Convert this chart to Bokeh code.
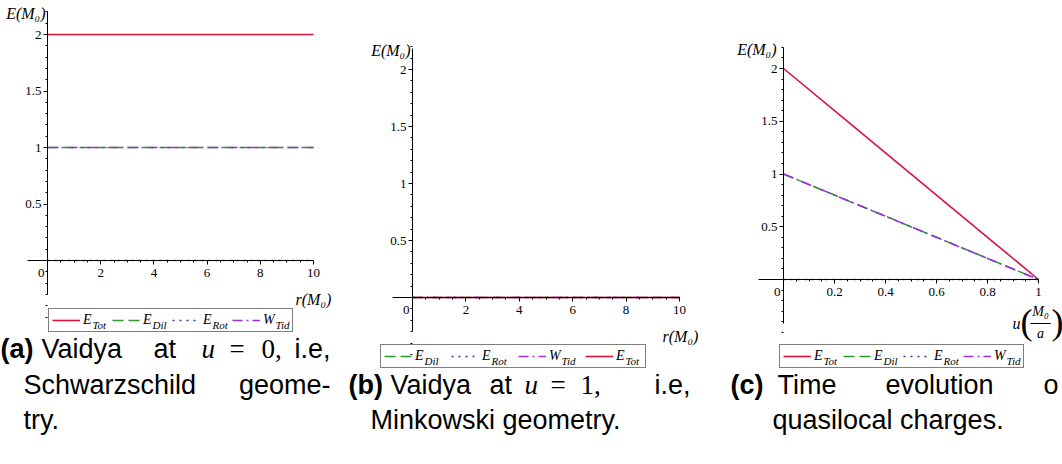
import numpy as np
from bokeh.plotting import figure
from bokeh.layouts import row
from bokeh.models import (Range1d, LinearAxis, FixedTicker, PrintfTickFormatter,
                          Label, Legend, LegendItem)
from bokeh.embed import file_html
from bokeh.resources import INLINE

# ---------------- data ----------------
# (a) Vaidya at u = 0 (Schwarzschild)
a_r = [0, 10]
a_E_Tot = [2, 2]
a_E_Dil = [1, 1]
a_E_Rot = [0, 0]
a_W_Tid = [1, 1]

# (b) Vaidya at u = 1 (Minkowski)
b_r = [0, 10]
b_E_Dil = [0, 0]
b_E_Rot = [0, 0]
b_W_Tid = [0, 0]
b_E_Tot = [0, 0]

# (c) time evolution
c_u = [0, 0.2, 0.4, 0.6, 0.8, 1]
c_E_Tot = [2, 1.6, 1.2, 0.8, 0.4, 0]
c_E_Dil = [1, 0.8, 0.6, 0.4, 0.2, 0]
c_E_Rot = [0, 0, 0, 0, 0, 0]
c_W_Tid = [1, 0.8, 0.6, 0.4, 0.2, 0]

r_ticks = [2, 4, 6, 8, 10]
u_ticks = [0.2, 0.4, 0.6, 0.8, 1]
E_ticks = [0.5, 1, 1.5, 2]

# ---------------- styles ----------------
H = 456
SERIF = "Liberation Serif"
SANS = "Liberation Sans"
STY = {
    "E_Tot": dict(color="#dc143c", dash="solid", main="E", sub="Tot"),
    "E_Dil": dict(color="#2e9a2e", dash="11 5", main="E", sub="Dil"),
    "E_Rot": dict(color="#3a3a96", dash="2 5", main="E", sub="Rot"),
    "W_Tid": dict(color="#9b30e0", dash="10 4 2 4", main="W", sub="Tid"),
}


def make_panel(fig_left, fig_w, xpx, xval, ypx, yval, xb, yb, xt, xminor):
    kx = (xpx[1] - xpx[0]) / (xval[1] - xval[0])
    x0 = xval[0] - (xpx[0] - fig_left) / kx
    ky = (ypx[0] - ypx[1]) / (yval[1] - yval[0])
    y1 = yval[1] + ypx[1] / ky
    p = figure(width=fig_w, height=H, title=None,
               x_range=Range1d(x0, x0 + fig_w / kx),
               y_range=Range1d(y1 - H / ky, y1),
               x_axis_type=None, y_axis_type=None,
               output_backend="svg", toolbar_location=None, min_border=0)
    p.outline_line_color = None
    p.background_fill_color = "white"
    ymin = [round(v, 2) for v in np.arange(-0.5, 2.3, 0.1)]
    xa = LinearAxis(fixed_location=0, bounds=xb,
                    ticker=FixedTicker(ticks=xt, minor_ticks=xminor),
                    formatter=PrintfTickFormatter(format="%g"))
    ya = LinearAxis(fixed_location=0, bounds=yb,
                    ticker=FixedTicker(ticks=E_ticks, minor_ticks=ymin),
                    formatter=PrintfTickFormatter(format="%g"))
    for ax in (xa, ya):
        ax.axis_line_color = "black"
        ax.axis_line_width = 1
        ax.major_tick_line_color = "black"
        ax.minor_tick_line_color = "black"
        ax.major_tick_out = 4
        ax.major_tick_in = 0
        ax.minor_tick_out = 2
        ax.minor_tick_in = 0
        ax.major_label_text_font = SERIF
        ax.major_label_text_font_size = "13px"
        ax.major_label_text_color = "black"
    xa.major_label_standoff = 4
    ya.major_label_standoff = 2
    p.add_layout(xa, "below")
    p.add_layout(ya, "left")

    def S(px, py):
        return dict(x=px - fig_left, y=H - py, x_units="screen", y_units="screen")
    return p, S


def add_lines(p, x, series):
    rs = {}
    for key, y in series:
        st = STY[key]
        rs[key] = p.line(x, y, line_color=st["color"], line_width=1.6,
                         line_dash=st["dash"])
    return rs


def add_legend(p, S, fig_left, rs, order, box, spacing):
    pad, gw, so, lw = 3, 28, 3, 26
    left, top, right, bottom = box
    items = [LegendItem(label=STY[k]["main"], renderers=[rs[k]]) for k in order]
    leg = Legend(items=items, orientation="horizontal",
                 location=(left - fig_left, H - bottom - 2),
                 padding=pad, spacing=spacing, margin=0,
                 glyph_width=gw, glyph_height=16, label_standoff=so,
                 label_width=lw, label_height=16,
                 label_text_font=SERIF, label_text_font_style="italic",
                 label_text_font_size="14px", label_text_color="black",
                 border_line_color="black", border_line_width=1,
                 background_fill_alpha=0)
    p.add_layout(leg)
    mid = (top + bottom) / 2
    for i, k in enumerate(order):
        mw = 10 if STY[k]["main"] == "E" else 13
        xs = left + pad + i * (gw + so + lw + spacing) + gw + so + mw
        p.add_layout(Label(text=STY[k]["sub"], text_font=SERIF,
                           text_font_style="italic", text_font_size="11px",
                           text_baseline="middle", text_align="left",
                           text_color="black", **S(xs, mid + 5)))


def txt(p, S, text, px, py, size="13px", font=SERIF, style="normal",
        align="left", baseline="middle"):
    p.add_layout(Label(text=text, text_font=font, text_font_style=style,
                       text_font_size=size, text_align=align,
                       text_baseline=baseline, text_color="black", **S(px, py)))


def caption(p, S, words):
    for text, px, py, font, style, align in words:
        txt(p, S, text, px, py, size="27px", font=font, style=style, align=align)


R1, R2, R3 = 348, 384, 419

# ---------------- panel (a) ----------------
pa, Sa = make_panel(0, 345, (47, 313), (0, 10), (260, 34), (0, 2),
                    (-0.75, 10), (-0.3, 2.2), r_ticks,
                    [v for v in np.arange(0.5, 10, 0.5) if v % 2])
ra = add_lines(pa, a_r, [("E_Tot", a_E_Tot), ("E_Dil", a_E_Dil),
                         ("E_Rot", a_E_Rot), ("W_Tid", a_W_Tid)])
add_legend(pa, Sa, 0, ra, ["E_Tot", "E_Dil", "E_Rot", "W_Tid"], (48, 308, 290, 330), 3)
txt(pa, Sa, "E(M₀)", 45, 13, size="16px", style="italic", align="right")
txt(pa, Sa, "0", 44, 272, align="right")
txt(pa, Sa, "r(M₀)", 295, 299, size="16px", style="italic")
caption(pa, Sa, [
    ("(a)", 0, R1, SANS, "bold", "left"),
    ("Vaidya", 41, R1, SANS, "normal", "left"),
    ("at", 153, R1, SANS, "normal", "left"),
    ("u", 201, R1, SERIF, "italic", "left"),
    ("=", 229, R1, SERIF, "normal", "left"),
    ("0,", 261, R1, SERIF, "normal", "left"),
    ("i.e,", 330, R1, SANS, "normal", "right"),
    ("Schwarzschild", 23, R2, SANS, "normal", "left"),
    ("geome-", 330, R2, SANS, "normal", "right"),
    ("try.", 23, R3, SANS, "normal", "left"),
])

# ---------------- panel (b) ----------------
pb, Sb = make_panel(345, 375, (412, 679), (0, 10), (297, 69), (0, 2),
                    (-0.75, 10), (-0.3, 2.18), r_ticks,
                    [v for v in np.arange(0.5, 10, 0.5) if v % 2])
rb = add_lines(pb, b_r, [("E_Dil", b_E_Dil), ("E_Rot", b_E_Rot),
                         ("W_Tid", b_W_Tid), ("E_Tot", b_E_Tot)])
add_legend(pb, Sb, 345, rb, ["E_Dil", "E_Rot", "W_Tid", "E_Tot"], (380, 344, 645, 366), 10)
txt(pb, Sb, "E(M₀)", 410, 50, size="16px", style="italic", align="right")
txt(pb, Sb, "0", 409, 309, align="right")
txt(pb, Sb, "r(M₀)", 662, 336, size="16px", style="italic")
caption(pb, Sb, [
    ("(b)", 348, R2, SANS, "bold", "left"),
    ("Vaidya", 390, R2, SANS, "normal", "left"),
    ("at", 489, R2, SANS, "normal", "left"),
    ("u", 524, R2, SERIF, "italic", "left"),
    ("=", 550, R2, SERIF, "normal", "left"),
    ("1,", 580, R2, SERIF, "normal", "left"),
    ("i.e,", 690, R2, SANS, "normal", "right"),
    ("Minkowski geometry.", 370, R3, SANS, "normal", "left"),
])

# ---------------- panel (c) ----------------
pc, Sc = make_panel(720, 342, (783, 1038), (0, 1), (279, 68), (0, 2),
                    (-0.1, 1), (-0.42, 2.2), u_ticks,
                    [round(v, 2) for v in np.arange(0.05, 1.0, 0.05)])
rc = add_lines(pc, c_u, [("E_Tot", c_E_Tot), ("E_Dil", c_E_Dil),
                         ("E_Rot", c_E_Rot), ("W_Tid", c_W_Tid)])
add_legend(pc, Sc, 720, rc, ["E_Tot", "E_Dil", "E_Rot", "W_Tid"], (779, 344, 1021, 366), 3)
txt(pc, Sc, "E(M₀)", 776, 49, size="16px", style="italic", align="right")
txt(pc, Sc, "0", 780, 291, align="right")
txt(pc, Sc, "u", 1012, 323, size="16px", style="italic")
txt(pc, Sc, "(", 1020, 321, size="36px")
txt(pc, Sc, ")", 1051, 321, size="36px")
txt(pc, Sc, "M₀", 1040, 311, size="14px", style="italic", align="center")
txt(pc, Sc, "—", 1040, 321, size="20px", align="center")
txt(pc, Sc, "a", 1040, 333, size="14px", style="italic", align="center")
caption(pc, Sc, [
    ("(c)", 730, R2, SANS, "bold", "left"),
    ("Time", 777, R2, SANS, "normal", "left"),
    ("evolution", 885, R2, SANS, "normal", "left"),
    ("o", 1043, R2, SANS, "normal", "left"),
    ("quasilocal charges.", 772, R3, SANS, "normal", "left"),
])

layout = row(pa, pb, pc)
open("out.html", "w").write(file_html(layout, INLINE))
